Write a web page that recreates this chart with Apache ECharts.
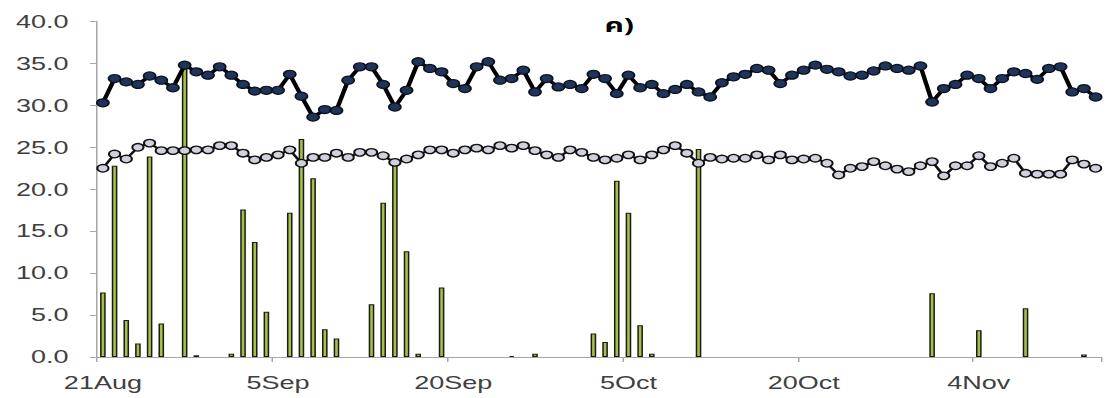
<!DOCTYPE html>
<html>
<head>
<meta charset="utf-8">
<script src="https://cdn.jsdelivr.net/npm/echarts/dist/echarts.min.js"></script>
<style>
  html, body { margin: 0; padding: 0; background: #ffffff; overflow: hidden; }
  #wrap { width: 1107px; height: 398px; overflow: hidden; }
  #chart { width: 738px; height: 398px; transform: scaleX(1.5); transform-origin: 0 0; }
</style>
</head>
<body>
<div id="wrap"><div id="chart"></div></div>
<script>
// ---- data ----
const titleText = 'ค)';
const categories = [
  '21Aug','22Aug','23Aug','24Aug','25Aug','26Aug','27Aug','28Aug','29Aug','30Aug','31Aug',
  '1Sep','2Sep','3Sep','4Sep','5Sep','6Sep','7Sep','8Sep','9Sep','10Sep','11Sep','12Sep','13Sep','14Sep','15Sep',
  '16Sep','17Sep','18Sep','19Sep','20Sep','21Sep','22Sep','23Sep','24Sep','25Sep','26Sep','27Sep','28Sep','29Sep','30Sep',
  '1Oct','2Oct','3Oct','4Oct','5Oct','6Oct','7Oct','8Oct','9Oct','10Oct','11Oct','12Oct','13Oct','14Oct','15Oct',
  '16Oct','17Oct','18Oct','19Oct','20Oct','21Oct','22Oct','23Oct','24Oct','25Oct','26Oct','27Oct','28Oct','29Oct','30Oct','31Oct',
  '1Nov','2Nov','3Nov','4Nov','5Nov','6Nov','7Nov','8Nov','9Nov','10Nov','11Nov','12Nov','13Nov','14Nov'
];
const labelEvery = 15;
const yTickValues = [0, 5, 10, 15, 20, 25, 30, 35, 40];

const seriesHigh = [
  30.3, 33.2, 32.8, 32.5, 33.5, 33.0, 32.1, 34.8, 34.0, 33.6, 34.6,
  33.6, 32.5, 31.7, 31.8, 31.8, 33.7, 31.1, 28.6, 29.5, 29.4, 33.0, 34.6, 34.6, 32.5, 29.8,
  31.8, 35.2, 34.4, 34.0, 32.6, 32.0, 34.6, 35.2, 33.0, 33.2, 34.2, 31.6, 33.2, 32.2, 32.5,
  32.0, 33.7, 33.2, 31.4, 33.6, 32.1, 32.5, 31.4, 31.9, 32.5, 31.6, 31.0, 32.7, 33.4, 33.7,
  34.4, 34.2, 32.6, 33.6, 34.2, 34.8, 34.3, 34.0, 33.5, 33.6, 34.1, 34.7, 34.4, 34.2, 34.7, 30.4,
  32.0, 32.5, 33.6, 33.2, 32.0, 33.2, 34.0, 33.8, 33.1, 34.4, 34.6, 31.6, 32.0, 31.0
];
const seriesLow = [
  22.5, 24.2, 23.6, 25.0, 25.5, 24.6, 24.6, 24.6, 24.7, 24.7, 25.2,
  25.2, 24.3, 23.5, 23.8, 24.1, 24.7, 23.1, 23.8, 23.8, 24.3, 23.8, 24.4, 24.4, 24.0, 23.2,
  23.6, 24.1, 24.7, 24.7, 24.3, 24.7, 24.9, 24.7, 25.2, 24.9, 25.2, 24.6, 24.1, 23.8, 24.7,
  24.4, 23.8, 23.5, 23.7, 24.1, 23.5, 24.1, 24.7, 25.2, 24.3, 23.1, 23.8, 23.6, 23.7, 23.7,
  24.1, 23.5, 24.1, 23.5, 23.6, 23.7, 23.1, 21.7, 22.5, 22.7, 23.3, 22.8, 22.4, 22.1, 22.8, 23.3,
  21.6, 22.8, 22.8, 24.0, 22.7, 23.1, 23.7, 21.9, 21.8, 21.8, 21.8, 23.5, 23.0, 22.5
];
const seriesRain = [
  7.7, 22.8, 4.4, 1.6, 23.9, 4.0, 0, 34.4, 0.2, 0, 0,
  0.4, 17.6, 13.7, 5.4, 0, 17.2, 26.0, 21.3, 3.3, 2.2, 0, 0, 6.3, 18.4, 23.0,
  12.6, 0.4, 0, 8.3, 0, 0, 0, 0, 0, 0.1, 0, 0.4, 0, 0, 0,
  0, 2.8, 1.8, 21.0, 17.2, 3.8, 0.4, 0, 0, 0, 24.8, 0, 0, 0, 0,
  0, 0, 0, 0, 0, 0, 0, 0, 0, 0, 0, 0, 0, 0, 0, 7.6,
  0, 0, 0, 3.2, 0, 0, 0, 5.8, 0, 0, 0, 0, 0.3, 0
];

// ---- chart ----
const chart = echarts.init(document.getElementById('chart'), null, { renderer: 'svg' });
const axisGrey = '#a6a6a6';
const labelFont = { color: '#404040', fontSize: 18, fontFamily: 'Liberation Sans, Arial, sans-serif' };

chart.setOption({
  animation: false,
  backgroundColor: '#ffffff',
  title: {
    text: titleText,
    left: 398,
    top: 11,
    textStyle: { fontSize: 20, fontWeight: 'bold', color: '#000000',
      fontFamily: "'Noto Sans Thai', 'Noto Sans Thai UI', 'Loma', 'Garuda', 'Tlwg Typo', 'Noto Sans', sans-serif" }
  },
  grid: { left: 64.7, right: 3.7, top: 21.5, bottom: 41, containLabel: false },
  xAxis: {
    type: 'category',
    data: categories,
    boundaryGap: true,
    axisLine: { show: true, lineStyle: { color: axisGrey, width: 1 } },
    axisTick: { show: true, length: 5, interval: (i) => i % labelEvery === 0, lineStyle: { color: axisGrey } },
    axisLabel: Object.assign({ interval: (i) => i % labelEvery === 0, margin: 17 }, labelFont),
    splitLine: { show: false }
  },
  yAxis: {
    type: 'value',
    min: yTickValues[0],
    max: yTickValues[yTickValues.length - 1],
    interval: yTickValues[1] - yTickValues[0],
    axisLine: { show: true, lineStyle: { color: axisGrey, width: 1 } },
    axisTick: { show: true, length: 4.7, lineStyle: { color: axisGrey } },
    axisLabel: Object.assign({ margin: 19, formatter: (v) => v.toFixed(1) }, labelFont),
    splitLine: { show: false }
  },
  series: [
    {
      name: 'rain',
      type: 'bar',
      data: seriesRain.map((v) => (v === 0 ? '-' : v)),
      barWidth: '48%',
      itemStyle: { color: '#a5c048', borderColor: '#1a1a1a', borderWidth: 1 },
      z: 1
    },
    {
      name: 'low',
      type: 'line',
      data: seriesLow,
      symbol: 'circle',
      symbolSize: 7.5,
      showAllSymbol: true,
      lineStyle: { color: '#111111', width: 2 },
      itemStyle: { color: '#cfd2dc', borderColor: '#111111', borderWidth: 1.3 },
      z: 3
    },
    {
      name: 'high',
      type: 'line',
      data: seriesHigh,
      symbol: 'circle',
      symbolSize: 8,
      showAllSymbol: true,
      lineStyle: { color: '#000000', width: 3 },
      itemStyle: { color: '#1f3458', borderColor: '#0b1322', borderWidth: 1.2 },
      z: 4
    }
  ]
});
</script>
</body>
</html>
